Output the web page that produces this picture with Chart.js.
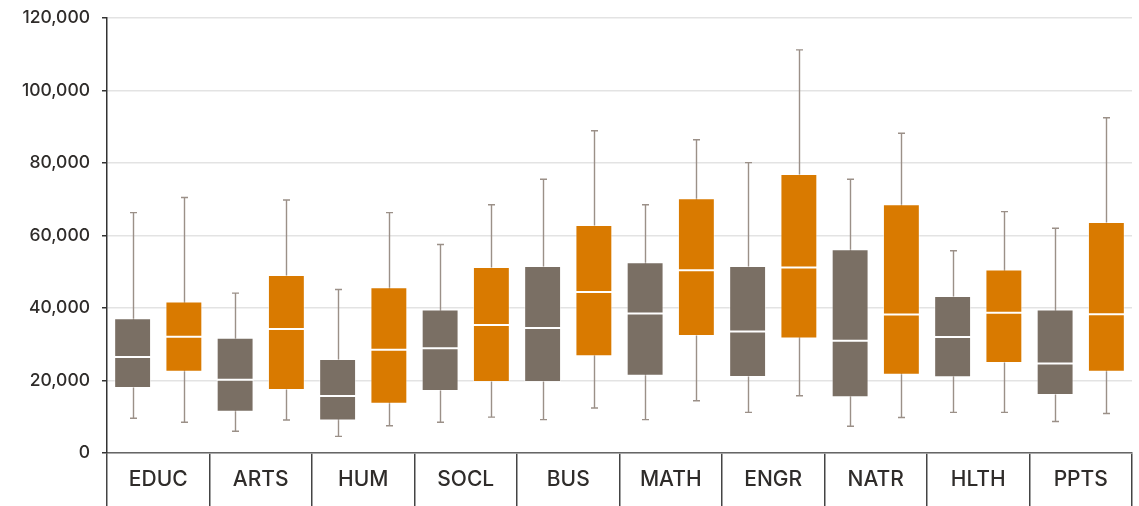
<!DOCTYPE html>
<html>
<head>
<meta charset="utf-8">
<script src="https://cdn.jsdelivr.net/npm/chart.js@4/dist/chart.umd.min.js"></script>
<style>
html,body{margin:0;padding:0;background:#fff;}
#wrap{width:1139px;height:506px;position:relative;}
</style>
</head>
<body>
<div id="wrap"><canvas id="c"></canvas></div>
<script>
const categories = ['EDUC','ARTS','HUM','SOCL','BUS','MATH','ENGR','NATR','HLTH','PPTS'];
const yTicks = [0, 20000, 40000, 60000, 80000, 100000, 120000];

const greyMin = [9600, 6000, 4600, 8500, 9200, 9200, 11200, 7400, 11200, 8700];
const greyQ1  = [17900, 11400, 9000, 17100, 19600, 21300, 21000, 15400, 20900, 16000];
const greyMed = [26500, 20200, 15700, 28900, 34500, 38500, 33500, 31000, 32000, 24700];
const greyQ3  = [37200, 31800, 25900, 39600, 51600, 52600, 51600, 56200, 43300, 39600];
const greyMax = [66300, 44100, 45100, 57500, 75500, 68500, 80100, 75500, 55800, 62000];

const orangeMin = [8500, 9100, 7500, 9900, 12400, 14400, 15800, 9800, 11200, 10900];
const orangeQ1  = [22400, 17400, 13600, 19600, 26700, 32300, 31600, 21600, 24800, 22400];
const orangeMed = [32100, 34200, 28500, 35300, 44400, 50400, 51200, 38200, 38700, 38300];
const orangeQ3  = [41800, 49100, 45700, 51300, 62900, 70300, 77000, 68600, 50600, 63700];
const orangeMax = [70500, 69800, 66300, 68500, 88900, 86400, 111200, 88200, 66600, 92500];

const stats = [
  {min: greyMin, med: greyMed, max: greyMax},
  {min: orangeMin, med: orangeMed, max: orangeMax}
];

const whiskerPlugin = {
  id: 'whiskers',
  beforeDatasetsDraw(chart) {
    const ctx = chart.ctx, y = chart.scales.y;
    ctx.save();
    ctx.strokeStyle = '#9b9088';
    ctx.lineWidth = 1.4;
    stats.forEach((s, di) => {
      chart.getDatasetMeta(di).data.forEach((bar, i) => {
        const x = Math.round(bar.x) + 0.5;
        const y0 = y.getPixelForValue(s.min[i]);
        const y1 = y.getPixelForValue(s.max[i]);
        ctx.beginPath();
        ctx.moveTo(x, y0); ctx.lineTo(x, y1);
        ctx.moveTo(x - 3.5, y0); ctx.lineTo(x + 3.5, y0);
        ctx.moveTo(x - 3.5, y1); ctx.lineTo(x + 3.5, y1);
        ctx.stroke();
      });
    });
    ctx.restore();
  },
  afterDatasetsDraw(chart) {
    const ctx = chart.ctx, y = chart.scales.y;
    ctx.save();
    ctx.strokeStyle = '#ffffff';
    ctx.lineWidth = 2;
    stats.forEach((s, di) => {
      chart.getDatasetMeta(di).data.forEach((bar, i) => {
        const ym = y.getPixelForValue(s.med[i]);
        ctx.beginPath();
        ctx.moveTo(bar.x - bar.width / 2, ym);
        ctx.lineTo(bar.x + bar.width / 2, ym);
        ctx.stroke();
      });
    });
    ctx.restore();
  }
};

const font = 'Inter';

new Chart(document.getElementById('c'), {
  type: 'bar',
  data: {
    labels: categories,
    datasets: [
      {
        label: 'Series 1',
        data: greyQ1.map((v, i) => [v, greyQ3[i]]),
        backgroundColor: '#7a6f64',
        borderColor: 'rgba(255,255,255,0.45)',
        borderWidth: 1,
        borderSkipped: false,
        categoryPercentage: 1.0,
        barPercentage: 0.72
      },
      {
        label: 'Series 2',
        data: orangeQ1.map((v, i) => [v, orangeQ3[i]]),
        backgroundColor: '#d97a00',
        borderColor: 'rgba(255,255,255,0.45)',
        borderWidth: 1,
        borderSkipped: false,
        categoryPercentage: 1.0,
        barPercentage: 0.72
      }
    ]
  },
  options: {
    responsive: true,
    maintainAspectRatio: false,
    animation: false,
    layout: { padding: { top: 18, right: 7, left: 0, bottom: 0 } },
    plugins: { legend: { display: false }, tooltip: { enabled: false } },
    scales: {
      x: {
        grid: {
          display: true, drawOnChartArea: false, drawTicks: true,
          tickLength: 53, color: '#444', lineWidth: 1.5, offset: true
        },
        border: { display: true, color: '#666', width: 1.5 },
        ticks: { color: '#2f2c2a', font: { family: font, size: 21, weight: 500 }, padding: -39, maxRotation: 0 },
        afterFit(s) { s.height = 53; s.paddingLeft = 0; s.paddingRight = 0; }
      },
      y: {
        min: 0, max: 120000,
        afterBuildTicks(s) { s.ticks = yTicks.map(v => ({ value: v })); },
        grid: { color: '#e3e3e3', lineWidth: 1.5, tickLength: 5, tickColor: '#333' },
        border: { display: true, color: '#333', width: 1.5 },
        ticks: {
          color: '#2f2c2a', font: { family: font, size: 17.5, weight: 500 }, padding: 12,
          callback: v => v.toLocaleString('en-US')
        },
        afterFit(s) { s.width = 107; s.paddingTop = 0; s.paddingBottom = 0; }
      }
    }
  },
  plugins: [whiskerPlugin]
});
</script>
</body>
</html>
